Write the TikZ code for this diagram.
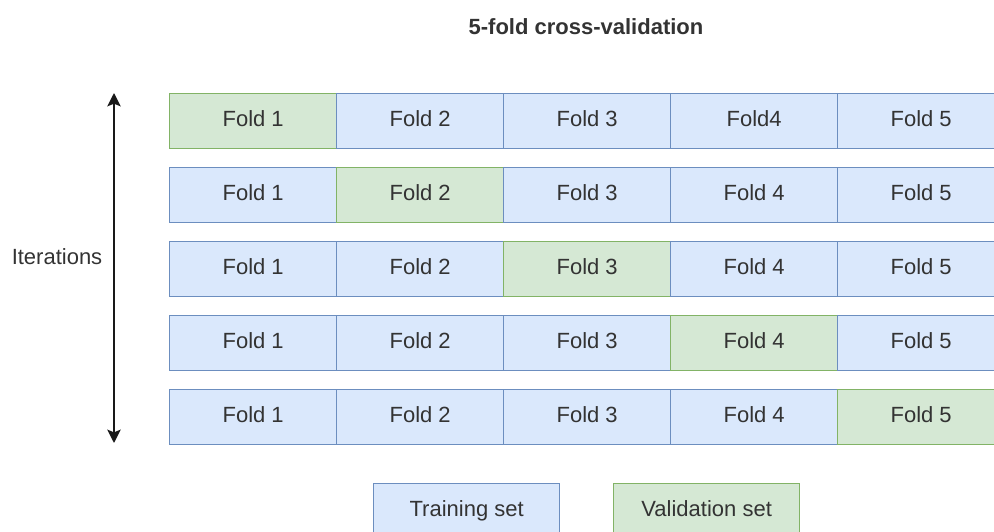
\documentclass[tikz,border=0pt]{standalone}
\usepackage{fontspec}
\setmainfont{Liberation Sans}
\usetikzlibrary{arrows.meta}
\definecolor{tfill}{HTML}{DAE8FC}
\definecolor{tline}{HTML}{6C8EBF}
\definecolor{vfill}{HTML}{D5E8D4}
\definecolor{vline}{HTML}{82B366}
\definecolor{txt}{HTML}{333333}
\tikzset{
  cell/.style={draw=tline, fill=tfill, line width=1pt, minimum width=167*0.75pt, minimum height=55*0.75pt, inner sep=0pt, anchor=north west, font=\fontsize{16.5}{19}\selectfont, text=txt, text height=12pt, text depth=4.5pt},
  valcell/.style={cell, draw=vline, fill=vfill},
  lbl/.style={font=\fontsize{16.5}{19}\selectfont, text=txt, inner sep=0pt}
}
\begin{document}
\begin{tikzpicture}[x=0.75pt,y=-0.75pt]
\useasboundingbox (0,0) rectangle (994,531);
\clip (0,0) rectangle (994,531);
\node[lbl, font=\fontsize{16.5}{19}\selectfont\bfseries] (title) at (586,27) {5-fold cross-validation};
\foreach \r/\yy in {1/93,2/167,3/241,4/315,5/389}{
  \foreach \c/\xx in {1/169,2/336,3/503,4/670,5/837}{
    \ifnum\r=\c
      \node[valcell] (f\r\c) at (\xx,\yy) {Fold \c};
    \else
      \ifnum\r=1 \ifnum\c=4
        \node[cell] (f\r\c) at (\xx,\yy) {Fold4};
      \else
        \node[cell] (f\r\c) at (\xx,\yy) {Fold \c};
      \fi
      \else
        \node[cell] (f\r\c) at (\xx,\yy) {Fold \c};
      \fi
    \fi
  }
}
\coordinate (atop) at (114,93);
\coordinate (abot) at (114,443);
\draw[line width=1.5pt, {Stealth[width=10pt,length=10pt,inset=2pt]}-{Stealth[width=10pt,length=10pt,inset=2pt]}, black!90] (atop) -- (abot);
\node[lbl] (iter) at (57,257) {Iterations};
\node[cell, minimum width=186*0.75pt] (train) at (373,483) {Training set};
\node[valcell, minimum width=186*0.75pt] (valid) at (613,483) {Validation set};
\end{tikzpicture}
\end{document}
